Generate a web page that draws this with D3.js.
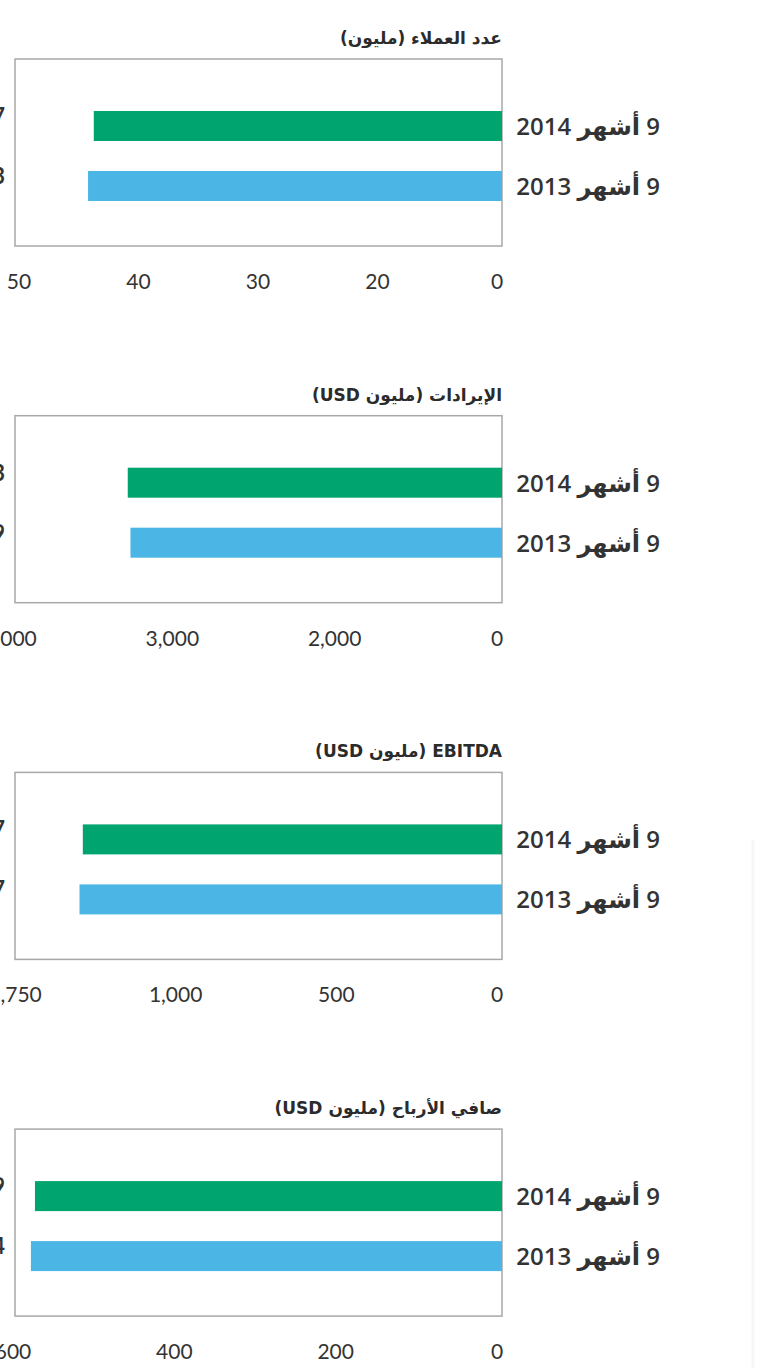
<!DOCTYPE html>
<html>
<head>
<meta charset="utf-8">
<script src="https://cdnjs.cloudflare.com/ajax/libs/d3/7.8.5/d3.min.js"></script>
<style>
  body { margin: 0; background: #fff; }
  svg { display: block; }
</style>
</head>
<body>
<div id="chart"></div>
<script>
// categories (one bar each, top to bottom)
var categories = ["9 أشهر 2014", "9 أشهر 2013"];
var titles = ["عدد العملاء (مليون)", "الإيرادات (مليون USD)", "EBITDA (مليون USD)", "صافي الأرباح (مليون USD)"];

// values per panel, same order as categories
var customers = [42.7, 43.3];
var revenue = [3283, 3259];
var ebitda = [1267, 1277];
var netProfit = [579, 584];

// tick labels as printed under each panel
var customerTicks = ["50", "40", "30", "20", "0"];
var revenueTicks = ["4,000", "3,000", "2,000", "0"];
var ebitdaTicks = ["1,750", "1,000", "500", "0"];
var profitTicks = ["600", "400", "200", "0"];

var fmt1 = d3.format(".1f"), fmt0 = d3.format(",");

var panels = [
  {title: titles[0], values: customers, ticks: customerTicks, max: 50, left: 24, tickLeft: 19, fmt: fmt1},
  {title: titles[1], values: revenue, ticks: revenueTicks, max: 4000, left: 46, tickLeft: 10, fmt: fmt0},
  {title: titles[2], values: ebitda, ticks: ebitdaTicks, max: 1750, left: -77, tickLeft: 15, fmt: fmt0},
  {title: titles[3], values: netProfit, ticks: profitTicks, max: 600, left: 18, tickLeft: 13, fmt: fmt0}
];

var W = 764, H = 1368;
var boxL = 15, boxR = 502, boxH = 187, firstTop = 59, step = 356.7;
var colors = ["#00a46f", "#4bb6e6"];

var svg = d3.select("#chart").append("svg")
	.attr("width", W)
	.attr("height", H);

// faint page edge on the right
svg.append("line")
	.attr("x1", 753).attr("x2", 753)
	.attr("y1", 840).attr("y2", H)
	.attr("stroke", "#f4f6f8")
	.attr("stroke-width", 3);

panels.forEach(function(p, i) {
	var top = firstTop + i * step;
	var g = svg.append("g");

	var x = d3.scaleLinear()
		.domain([0, p.max])
		.range([boxR, p.left]);

	var y = d3.scaleBand()
		.domain(categories)
		.range([top + 37, top + 157])
		.paddingInner(0.5)
		.paddingOuter(0.25);

	var tx = d3.scalePoint()
		.domain(p.ticks)
		.range([p.tickLeft, 497]);

	// title, right aligned on the box edge
	g.append("text")
		.attr("x", boxR)
		.attr("y", top - 15)
		.attr("font-family", "'DejaVu Sans', sans-serif")
		.attr("font-size", 17)
		.attr("font-weight", "bold")
		.attr("fill", "#2b2b2b")
		.style("direction", "rtl")
		.style("unicode-bidi", "embed")
		.attr("text-anchor", "start")
		.text(p.title);

	// frame
	g.append("rect")
		.attr("x", boxL)
		.attr("y", top)
		.attr("width", boxR - boxL)
		.attr("height", boxH)
		.attr("fill", "#fff")
		.attr("stroke", "#a8a8a8")
		.attr("stroke-width", 1.5);

	// bars
	g.selectAll("rect.bar")
		.data(p.values)
		.enter().append("rect")
			.attr("class", "bar")
			.attr("x", function(d) { return x(d); })
			.attr("y", function(d, j) { return y(categories[j]); })
			.attr("width", function(d) { return x(0) - x(d); })
			.attr("height", y.bandwidth())
			.attr("fill", function(d, j) { return colors[j]; });

	// value labels, mostly outside the left edge (cropped like the source)
	g.selectAll("text.val")
		.data(p.values)
		.enter().append("text")
			.attr("class", "val")
			.attr("x", 5)
			.attr("y", function(d, j) { return y(categories[j]) + y.bandwidth() / 2 - 2; })
			.attr("text-anchor", "end")
			.attr("font-family", "Lato, sans-serif")
			.attr("font-size", 22)
			.attr("font-weight", "bold")
			.attr("fill", "#333")
			.text(function(d) { return p.fmt(d); });

	// category labels on the right
	g.selectAll("text.cat")
		.data(categories)
		.enter().append("text")
			.attr("class", "cat")
			.attr("x", 660)
			.attr("y", function(d) { return y(d) + y.bandwidth() / 2 + 9; })
			.attr("font-family", "'Open Sans', 'DejaVu Sans', sans-serif")
			.attr("font-size", 24)
			.attr("font-weight", 600)
			.attr("fill", "#333")
			.style("direction", "rtl")
			.style("unicode-bidi", "embed")
			.attr("text-anchor", "start")
			.text(function(d) { return d; });

	// tick labels under the frame
	g.selectAll("text.tick")
		.data(p.ticks)
		.enter().append("text")
			.attr("class", "tick")
			.attr("x", function(d) { return tx(d); })
			.attr("y", top + boxH + 43)
			.attr("text-anchor", "middle")
			.attr("font-family", "Lato, sans-serif")
			.attr("font-size", 21)
			.attr("fill", "#333")
			.text(function(d) { return d; });
});
</script>
</body>
</html>
